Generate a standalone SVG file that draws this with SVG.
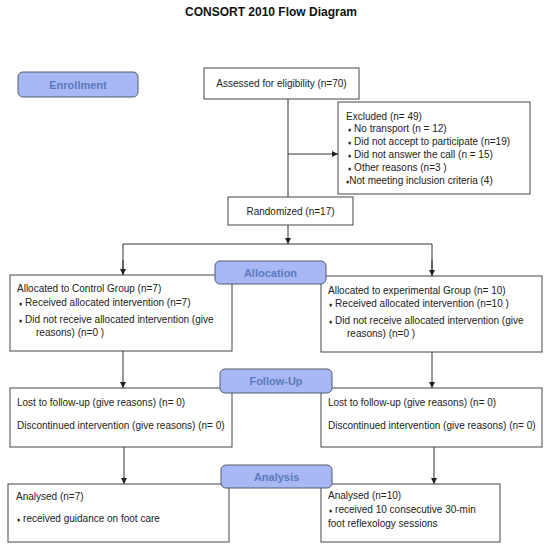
<svg xmlns="http://www.w3.org/2000/svg" width="550" height="549" viewBox="0 0 550 549">
<defs>
<marker id="ah" viewBox="0 0 10 10" refX="10" refY="5" markerWidth="6" markerHeight="6" orient="auto" markerUnits="userSpaceOnUse">
<path d="M0,0 L10,5 L0,10 z" fill="#222"/>
</marker>
<style>
.box{fill:#fff;stroke:#444;stroke-width:1}
.lab{fill:#a8b8f4;stroke:#4f5b73;stroke-width:1}
.lt{font-family:"Liberation Sans",Arial,sans-serif;font-size:11px;font-weight:bold;fill:#5b78bd;text-anchor:middle}
.t{font-family:"Liberation Sans",Arial,sans-serif;font-size:10px;fill:#222}
.c{text-anchor:middle}
.b{font-size:6.5px}
.ln{fill:none;stroke:#333;stroke-width:1}
</style>
</defs>
<rect width="550" height="549" fill="#fff"/>
<text x="271" y="16" font-family="'Liberation Sans',Arial,sans-serif" font-size="12" font-weight="bold" text-anchor="middle" fill="#111">CONSORT 2010 Flow Diagram</text>

<g id="connectors">
<line class="ln" x1="288" y1="99" x2="288" y2="197"/>
<line class="ln" x1="288" y1="154" x2="338" y2="154" marker-end="url(#ah)"/>
<line class="ln" x1="288" y1="225" x2="288" y2="244" marker-end="url(#ah)"/>
<polyline class="ln" points="123,275 123,244 432,244 432,276"/>
<line class="ln" x1="123" y1="260" x2="123" y2="275" marker-end="url(#ah)"/>
<line class="ln" x1="432" y1="260" x2="432" y2="276" marker-end="url(#ah)"/>
<line class="ln" x1="123" y1="351" x2="123" y2="388" marker-end="url(#ah)"/>
<line class="ln" x1="432" y1="352" x2="432" y2="388" marker-end="url(#ah)"/>
<line class="ln" x1="124" y1="447" x2="124" y2="484" marker-end="url(#ah)"/>
<line class="ln" x1="434" y1="447" x2="434" y2="484" marker-end="url(#ah)"/>
</g>

<g id="assessed">
<rect class="box" x="204" y="68" width="155" height="31"/>
<text class="t c" x="281.5" y="86.5">Assessed for eligibility (n=70)</text>
</g>

<g id="excluded">
<rect class="box" x="338" y="102" width="192" height="92"/>
<text class="t" x="346" y="119.5">Excluded (n= 49)</text>
<text class="t" x="348" y="132.3"><tspan class="b">♦</tspan> No transport (n = 12)</text>
<text class="t" x="348" y="145.1"><tspan class="b">♦</tspan> Did not accept to participate (n=19)</text>
<text class="t" x="348" y="157.9"><tspan class="b">♦</tspan> Did not answer the call (n = 15)</text>
<text class="t" x="348" y="170.7"><tspan class="b">♦</tspan> Other reasons (n=3 )</text>
<text class="t" x="346" y="183.5"><tspan class="b">♦</tspan>Not meeting inclusion criteria (4)</text>
</g>

<g id="randomized">
<rect class="box" x="228" y="197" width="125" height="28"/>
<text class="t c" x="290.5" y="214.5">Randomized (n=17)</text>
</g>

<g id="control">
<rect class="box" x="10" y="275" width="222" height="76"/>
<text class="t" x="17" y="291.5">Allocated to Control Group (n=7)</text>
<text class="t" x="19" y="305.5"><tspan class="b">♦</tspan> Received allocated intervention (n=7)</text>
<text class="t" x="19" y="322.5"><tspan class="b">♦</tspan> Did not receive allocated intervention (give</text>
<text class="t" x="36" y="335.5">reasons) (n=0 )</text>
</g>

<g id="experimental">
<rect class="box" x="321" y="276" width="221" height="76"/>
<text class="t" x="328" y="293.5">Allocated to experimental Group (n= 10)</text>
<text class="t" x="329" y="306.5"><tspan class="b">♦</tspan> Received allocated intervention (n=10  )</text>
<text class="t" x="329" y="323.5"><tspan class="b">♦</tspan> Did not receive allocated intervention (give</text>
<text class="t" x="347" y="336.5">reasons) (n=0 )</text>
</g>

<g id="followup-control">
<rect class="box" x="10" y="388" width="222" height="59"/>
<text class="t" x="17" y="405.5">Lost to follow-up (give reasons) (n= 0)</text>
<text class="t" x="17" y="428.5">Discontinued intervention (give reasons) (n= 0)</text>
</g>

<g id="followup-experimental">
<rect class="box" x="321" y="388" width="221" height="59"/>
<text class="t" x="328" y="405.5">Lost to follow-up (give reasons) (n= 0)</text>
<text class="t" x="328" y="428.5">Discontinued intervention (give reasons) (n= 0)</text>
</g>

<g id="analysed-control">
<rect class="box" x="8" y="484" width="221" height="58"/>
<text class="t" x="16" y="500">Analysed (n=7)</text>
<text class="t" x="17" y="522"><tspan class="b">♦</tspan> received guidance on foot care</text>
</g>

<g id="analysed-experimental">
<rect class="box" x="321" y="484" width="179" height="58"/>
<text class="t" x="328" y="499">Analysed (n=10)</text>
<text class="t" x="329" y="513"><tspan class="b">♦</tspan> received 10 consecutive 30-min</text>
<text class="t" x="328" y="527">foot reflexology sessions</text>
</g>

<g id="label-enrollment">
<rect class="lab" x="18" y="72" width="120" height="25" rx="5"/>
<text class="lt" x="78" y="88.5">Enrollment</text>
</g>
<g id="label-allocation">
<rect class="lab" x="215" y="261" width="111" height="23" rx="5"/>
<text class="lt" x="270.5" y="276.5">Allocation</text>
</g>
<g id="label-followup">
<rect class="lab" x="220" y="369" width="112" height="24" rx="5"/>
<text class="lt" x="276" y="385">Follow-Up</text>
</g>
<g id="label-analysis">
<rect class="lab" x="221" y="465" width="111" height="23" rx="5"/>
<text class="lt" x="276.5" y="480.5">Analysis</text>
</g>
</svg>
